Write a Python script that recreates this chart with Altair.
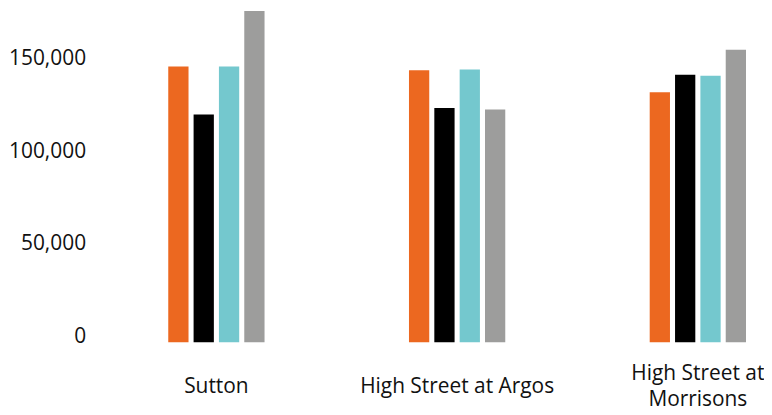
import altair as alt
import pandas as pd

categories = ["Sutton", "High Street at Argos", "High Street at Morrisons"]
series = ["Series 1", "Series 2", "Series 3", "Series 4"]
series_1 = [149000, 147000, 135000]
series_2 = [123000, 126500, 144500]
series_3 = [149000, 147400, 144000]
series_4 = [179000, 125800, 158000]
colors = ["#EC6820", "#000000", "#74C8CE", "#9D9D9C"]
y_ticks = [0, 50000, 100000, 150000]

rows = []
for s, vals in zip(series, [series_1, series_2, series_3, series_4]):
    for c, v in zip(categories, vals):
        rows.append({"location": c, "series": s, "value": v})
df = pd.DataFrame(rows)

FONT = "Open Sans"

chart = alt.Chart(df).mark_bar().encode(
    x=alt.X(
        "location:N",
        sort=categories,
        scale=alt.Scale(paddingInner=0.6, paddingOuter=0.05),
        axis=alt.Axis(
            title=None, labelAngle=0, domain=False, ticks=False, tickSize=0,
            labelPadding={"condition": {"test": "datum.label == 'High Street at Morrisons'", "value": 31}, "value": 44},
            labelBaseline="middle", labelFontSize=21,
            labelFont=FONT, labelColor="#111111", labelLimit=400,
            labelLineHeight=27,
            labelExpr="datum.label == 'High Street at Morrisons' ? ['High Street at', 'Morrisons'] : datum.label",
        ),
    ),
    xOffset=alt.XOffset("series:N", sort=series, scale=alt.Scale(paddingInner=0.2)),
    y=alt.Y(
        "value:Q",
        scale=alt.Scale(domain=[0, 180000], nice=False),
        axis=alt.Axis(
            title=None, values=y_ticks, format=",.0f", grid=False, domain=False,
            ticks=False, tickSize=0, labelPadding=71, labelBaseline="alphabetic",
            labelFontSize=21, labelFont=FONT, labelColor="#111111",
        ),
    ),
    color=alt.Color("series:N", scale=alt.Scale(domain=series, range=colors), legend=None),
).properties(width=605, height=335, padding=0).configure_view(stroke=None)

chart.save("out.html", embed_options={"renderer": "svg", "actions": False})
